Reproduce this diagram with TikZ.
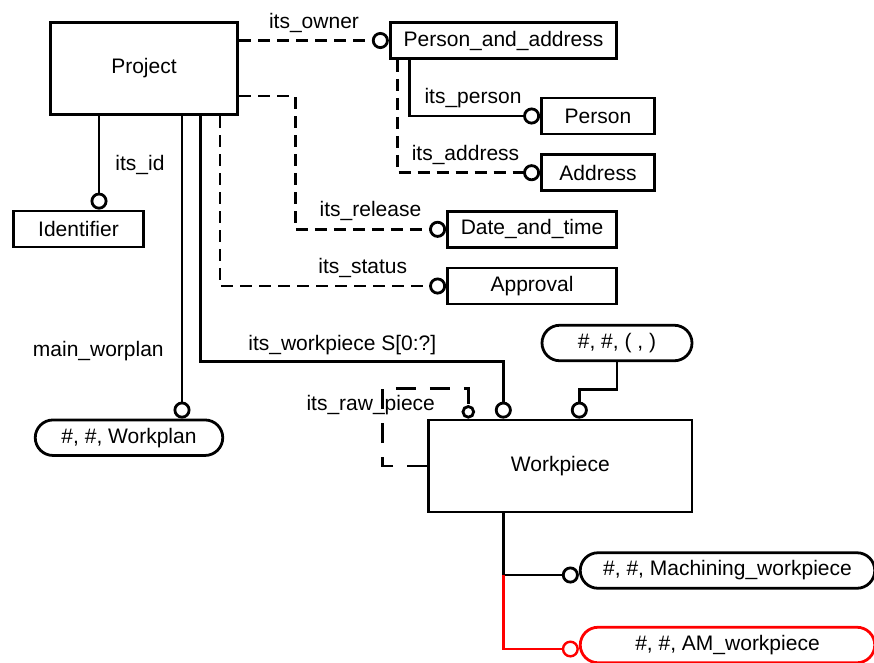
\documentclass[tikz,border=0pt]{standalone}
\usepackage{fontspec}
\setmainfont{Liberation Sans}
\usetikzlibrary{arrows.meta, shapes.misc, positioning}
\definecolor{myred}{HTML}{FF0000}
\newcommand{\diafont}{\fontsize{21}{25}\selectfont}
\tikzset{
	entitynode/.style={
			rectangle,
			draw=black,
			line width=2.8pt,
			fill=white,
			inner sep=0pt,
			minimum height=36pt,
			font=\diafont
		},
	pillnode/.style={
			entitynode,
			rounded rectangle,
			minimum height=35.5pt
		},
	labelnode/.style={
			anchor=base,
			inner sep=0pt,
			font=\diafont
		},
	solidlink/.style={
			line width=2.8pt,
			-{Circle[open, length=17pt, width=17pt]}
		},
	dashlink/.style={
			solidlink,
			dash pattern=on 12pt off 7pt
		},
	rawlink/.style={
			line width=2.8pt,
			dash pattern=on 20pt off 14pt,
			-{Circle[open, length=13.5pt, width=13.5pt]}
		},
	redlink/.style={
			solidlink,
			draw=myred,
			line width=2.4pt
		}
}

\begin{document}
\begin{tikzpicture}[x=1pt, y=-1pt]
\useasboundingbox (0,0) rectangle (874,662);
\clip (0,0) rectangle (874,662);

% entities
\node[entitynode, minimum width=187.5pt, minimum height=92.5pt] (tProj) at (144,68.5) {Project};
\node[entitynode, minimum width=130.5pt] (tId) at (78.5,229) {Identifier};
\node[entitynode, minimum width=226.5pt] (tPA) at (503.5,40.5) {Person\_and\_address};
\node[entitynode, minimum width=113pt] (tPer) at (598,116) {Person};
\node[entitynode, minimum width=113pt] (tAdr) at (598,172.7) {Address};
\node[entitynode, minimum width=169pt] (tDT) at (532,229.3) {Date\_and\_time};
\node[entitynode, minimum width=169pt] (tAp) at (532,286) {Approval};
\node[entitynode, minimum width=263.5pt, minimum height=92pt] (tWk) at (560.3,466) {Workpiece};

% selects
\node[pillnode, minimum width=187.5pt] (tWP) at (129,437.7) {\#, \#, Workplan};
\node[pillnode, minimum width=150pt] (tTup) at (617,343) {\#, \#, ( , )};
\node[pillnode, minimum width=294.5pt] (tMach) at (727.5,570.5) {\#, \#, Machining\_workpiece};
\node[pillnode, minimum width=294.5pt, draw=myred] (tAM) at (727.5,645) {\#, \#, AM\_workpiece};

% attachment points
\coordinate (pId) at ([xshift=-45pt]tProj.south);
\coordinate (pMain) at ([xshift=38pt]tProj.south);
\coordinate (pWk) at ([xshift=56.7pt]tProj.south);
\coordinate (pSt) at ([xshift=76pt]tProj.south);
\coordinate (pPer) at ([xshift=-94pt]tPA.south);
\coordinate (pAdr) at ([xshift=-106pt]tPA.south);
\coordinate (wRaw) at ([xshift=-92pt]tWk.north);
\coordinate (wIn) at ([xshift=-57pt]tWk.north);
\coordinate (wTup) at ([xshift=19pt]tWk.north);
\coordinate (wSub) at ([xshift=-57pt]tWk.south);
\coordinate (mIn) at ([yshift=-4.5pt]tMach.west);
\coordinate (aIn) at ([yshift=-4pt]tAM.west);
\coordinate (jSub) at (wSub |- mIn);

% relations
\draw[dashlink] (tProj.east |- tPA.west) -- (tPA.west);
\draw[solidlink] (pPer) |- (tPer.west);
\draw[dashlink] (pAdr) |- (tAdr.west);
\draw[dashlink] ([yshift=-27.5pt]tProj.east) -- ++(56,0) |- (tDT.west);
\draw[dashlink] (pSt) |- (tAp.west);
\draw[solidlink] (pId) -- (pId |- tId.north);
\draw[solidlink] (pMain) -- (pMain |- tWP.north);
\draw[solidlink] (pWk) |- ([yshift=57pt]wIn) -- (wIn);
\draw[solidlink] (tTup.south) |- ([yshift=29pt]wTup) -- (wTup);
\draw[rawlink] (tWk.west) -- ++(-45,0) |- ([yshift=30pt]wRaw) -- (wRaw);

% subtypes
\draw[solidlink] (wSub) |- (mIn);
\draw[redlink] (jSub) |- (aIn);

% labels
\node[labelnode] (lOwner) at (314,28) {its\_owner};
\node[labelnode] (lPer) at (473,103.3) {its\_person};
\node[labelnode] (lAdr) at (465.5,160) {its\_address};
\node[labelnode] (lRel) at (370.5,216.7) {its\_release};
\node[labelnode] (lSt) at (362.7,273.3) {its\_status};
\node[labelnode] (lId) at (140,170.7) {its\_id};
\node[labelnode] (lMain) at (98.3,356.7) {main\_worplan};
\node[labelnode] (lWk) at (342.3,350) {its\_workpiece S[0:?]};
\node[labelnode] (lRaw) at (370.7,410.7) {its\_raw\_piece};

\end{tikzpicture}
\end{document}
